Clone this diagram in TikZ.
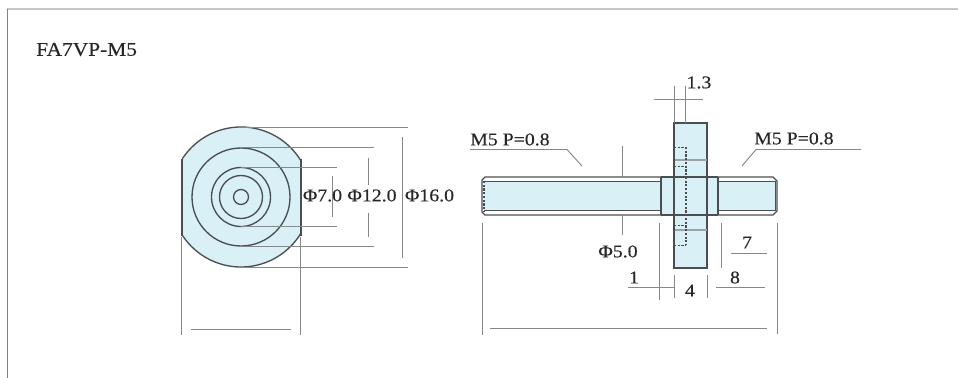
\documentclass[tikz,border=0pt]{standalone}
\usepackage{fontspec}
\setmainfont{Liberation Serif}[FakeStretch=1.1,FakeBold=0.25]
\definecolor{partfill}{HTML}{DAF0F7}
\definecolor{partline}{HTML}{4A4E51}
\definecolor{dimline}{HTML}{85898B}
\definecolor{framegray}{HTML}{C8C8C8}
\definecolor{labelink}{HTML}{262828}
\tikzset{
  part/.style={draw=partline,line width=1pt},
  thin part/.style={draw=partline,line width=0.7pt},
  hidden/.style={draw=partline,line width=0.8pt,dash pattern=on 1.6pt off 1.2pt},
  dim/.style={draw=dimline,line width=0.72pt},
  label/.style={inner sep=0pt,text=labelink,font=\fontsize{13.5}{15}\selectfont},
}
\begin{document}
\begin{tikzpicture}[x=0.75pt,y=-0.75pt]
\useasboundingbox (0,0) rectangle (958,378);
\fill[white] (0,0) rectangle (958,378);
% frame
\draw[framegray,line width=1.6pt] (7,9) -- (958,9);
\draw[gray,line width=0.9pt] (7.5,9) -- (7.5,378);
\node[label,anchor=west,font=\fontsize{14.6}{16}\selectfont] (title) at (36,49.5) {FA7VP-M5};
% ---- left view
\begin{scope}
\clip (182,120) rectangle (301,275);
\fill[partfill] (241,197) circle[radius=70];
\draw[part] (241,197) circle[radius=70];
\end{scope}
\draw[part] (182,159) -- (182,236);
\draw[part] (301,159) -- (301,236);
\draw[part] (241,197) circle[radius=49];
\draw[part] (241,197) circle[radius=29.5];
\draw[part] (241,197) circle[radius=21.5];
\draw[part] (241,197) circle[radius=7.5];
% left dimensions
\draw[dim] (241,127.5) -- (408,127.5);
\draw[dim] (241,267.5) -- (408,267.5);
\draw[dim] (241,147.5) -- (374,147.5);
\draw[dim] (241,246.5) -- (374,246.5);
\draw[dim] (241,167.5) -- (337,167.5);
\draw[dim] (241,226.5) -- (337,226.5);
\draw[dim] (402.5,137) -- (402.5,258);
\draw[dim] (368.5,158) -- (368.5,185);
\draw[dim] (368.5,213) -- (368.5,237);
\draw[dim] (332.5,176) -- (332.5,217);
\draw[dim] (181.5,237) -- (181.5,335);
\draw[dim] (300.5,237) -- (300.5,335);
\draw[dim] (191,329.5) -- (291,329.5);
\node[label] (d7) at (322.5,195.5) {Φ7.0};
\node[label] (d12) at (372,195.5) {Φ12.0};
\node[label] (d16) at (429.5,195.5) {Φ16.0};
% ---- right view: rod
\fill[partfill] (484,182) rectangle (775,210.5);
\fill[partfill] (660.5,177) rectangle (718,215);
\fill[partfill] (674,123) rectangle (707,268);
\draw[part] (661,177) -- (485,177) -- (482,180) -- (482,212) -- (485,215) -- (661,215);
\draw[part] (718,177) -- (773,177) -- (777,181) -- (777,211) -- (773,215) -- (718,215);
\draw[thin part] (484,181.5) -- (661,181.5);
\draw[thin part] (484,210.5) -- (661,210.5);
\draw[thin part] (718,181.5) -- (775,181.5);
\draw[thin part] (718,210.5) -- (775,210.5);
\draw[hidden] (484,181) -- (484,211);
\draw[thin part] (775,181) -- (775,211);
\draw[part] (661,177) -- (718,177);
\draw[part] (661,215) -- (718,215);
\draw[part] (661,177) -- (661,215);
\draw[part] (718,177) -- (718,215);
% flange
\draw[part] (674,123) rectangle (707,268);
\draw[dimline!80!white,line width=2.2pt] (675,160) -- (706.5,160);
\draw[dimline!80!white,line width=2.2pt] (675,230) -- (706.5,230);
\draw[hidden] (686,147) -- (686,245);
\draw[hidden] (674,147.5) -- (686,147.5);
\draw[hidden] (674,166.5) -- (686,166.5);
\draw[hidden] (674,225.5) -- (686,225.5);
\draw[hidden] (674,245.5) -- (686,245.5);
% right dimensions
\draw[dim] (654,99.5) -- (703,99.5);
\draw[dim] (674,86) -- (674,123);
\draw[dim] (685,86) -- (685,123);
\node[label] (d13) at (699,82.5) {1.3};
\draw[dim] (470,149.5) -- (567,149.5) -- (582,166);
\node[label,anchor=west] (mleft) at (470,139.5) {M5 P=0.8};
\draw[dim] (861,149.5) -- (756,149.5) -- (742,166);
\node[label,anchor=west] (mright) at (754,138.5) {M5 P=0.8};
\draw[dim] (622.5,146) -- (622.5,177);
\draw[dim] (622.5,215) -- (622.5,235);
\node[label] (d5) at (618,251.5) {Φ5.0};
\draw[dim] (482,223) -- (482,335);
\draw[dim] (659,223) -- (659,300);
\draw[dim] (721,223) -- (721,268);
\draw[dim] (777,223) -- (777,334);
\draw[dim] (674,275) -- (674,298);
\draw[dim] (707,275) -- (707,298);
\draw[dim] (628,287.5) -- (674,287.5);
\draw[dim] (716,287.5) -- (765,287.5);
\draw[dim] (731,253.5) -- (767,253.5);
\draw[dim] (490,328.5) -- (767,328.5);
\node[label] (d1) at (634,277.5) {1};
\node[label] (d4) at (690,290.5) {4};
\node[label] (d8) at (735,277.5) {8};
\node[label] (d77) at (747,242.5) {7};
\end{tikzpicture}
\end{document}
